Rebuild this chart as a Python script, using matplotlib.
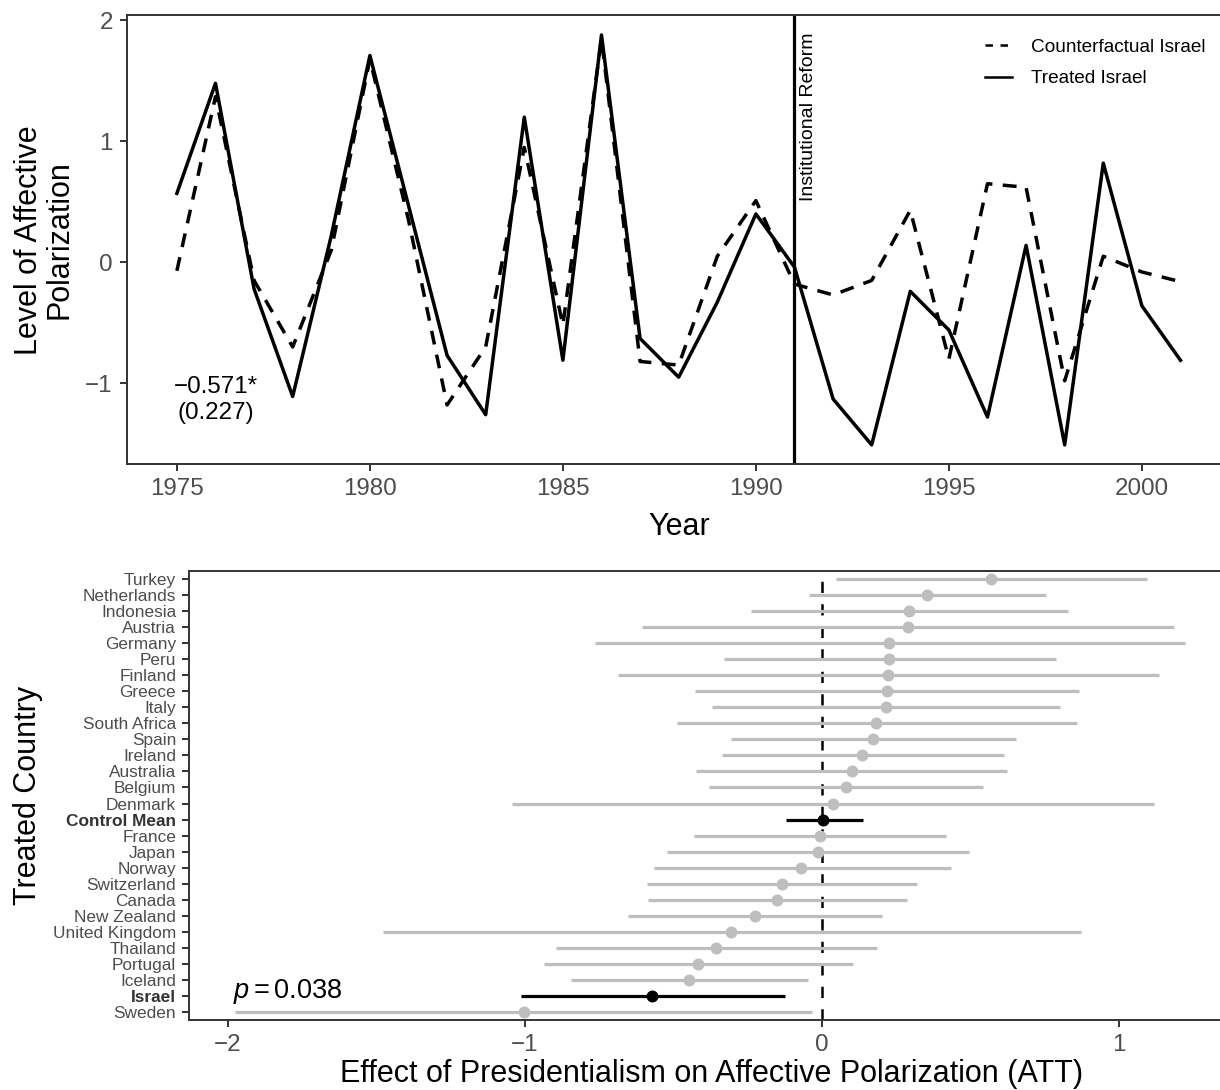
import matplotlib
matplotlib.use("Agg")
import matplotlib.pyplot as plt
from matplotlib.lines import Line2D

plt.rcParams['font.family'] = ['Liberation Sans', 'DejaVu Sans']
plt.rcParams['mathtext.fontset'] = 'custom'
plt.rcParams['mathtext.rm'] = 'Liberation Sans'
plt.rcParams['mathtext.it'] = 'Liberation Sans:italic'

# top panel: Israel vs synthetic counterfactual
years = [1975, 1976, 1977, 1978, 1979, 1980, 1981, 1982, 1983, 1984,
         1985, 1986, 1987, 1988, 1989, 1990, 1991, 1992, 1993, 1994,
         1995, 1996, 1997, 1998, 1999, 2000, 2001]
treated = [0.57, 1.48, -0.22, -1.11, 0.22, 1.71, 0.47, -0.77, -1.26, 1.20,
           -0.81, 1.88, -0.63, -0.95, -0.33, 0.40, -0.04, -1.13, -1.51, -0.24,
           -0.56, -1.28, 0.14, -1.51, 0.82, -0.36, -0.81]
counterfactual = [-0.07, 1.37, -0.15, -0.70, 0.10, 1.68, 0.35, -1.18, -0.70, 0.95,
                  -0.52, 1.85, -0.82, -0.85, 0.05, 0.51, -0.18, -0.27, -0.15, 0.43,
                  -0.80, 0.65, 0.62, -0.98, 0.05, -0.08, -0.16]
reform_year = 1991

# bottom panel: placebo estimates, listed top to bottom
countries = ["Turkey", "Netherlands", "Indonesia", "Austria", "Germany", "Peru",
             "Finland", "Greece", "Italy", "South Africa", "Spain", "Ireland",
             "Australia", "Belgium", "Denmark", "Control Mean", "France", "Japan",
             "Norway", "Switzerland", "Canada", "New Zealand", "United Kingdom",
             "Thailand", "Portugal", "Iceland", "Israel", "Sweden"]
att = [0.570, 0.354, 0.292, 0.289, 0.227, 0.225, 0.222, 0.218, 0.216, 0.183,
       0.171, 0.136, 0.100, 0.080, 0.036, 0.005, -0.007, -0.013, -0.069, -0.136,
       -0.151, -0.225, -0.306, -0.355, -0.417, -0.446, -0.571, -1.004]
ci_low = [0.046, -0.045, -0.239, -0.606, -0.763, -0.331, -0.687, -0.426, -0.370, -0.488,
          -0.307, -0.337, -0.424, -0.379, -1.043, -0.120, -0.430, -0.520, -0.567, -0.590,
          -0.585, -0.653, -1.479, -0.896, -0.935, -0.845, -1.012, -1.977]
ci_high = [1.096, 0.756, 0.827, 1.187, 1.221, 0.787, 1.136, 0.864, 0.803, 0.858,
           0.652, 0.613, 0.624, 0.544, 1.118, 0.138, 0.418, 0.496, 0.433, 0.319,
           0.287, 0.204, 0.872, 0.187, 0.104, -0.046, -0.123, -0.034]
highlight = ["Control Mean", "Israel"]

W, H = 1220, 1090
AXIS_COL = "#333333"
TICK_COL = "#4D4D4D"
GREY = "#BEBEBE"


def px_box(left, top, right, bottom):
    return [left / W, 1 - bottom / H, (right - left) / W, (bottom - top) / H]


def style_axes(ax):
    for side in ["left", "bottom", "top", "right"]:
        ax.spines[side].set_color(AXIS_COL)
        ax.spines[side].set_linewidth(1.4)
    ax.tick_params(direction="out", length=5, width=1.4, color=AXIS_COL,
                   labelcolor=TICK_COL)


fig = plt.figure(figsize=(W / 100, H / 100), dpi=100)

# ---- top panel
# panel runs past the right edge of the picture, as in the original
ax1 = fig.add_axes(px_box(126.7, 15, 1225, 464))
style_axes(ax1)
ax1.plot(years, counterfactual, color="black", lw=2.5, ls=(0, (4, 3)),
         label="Counterfactual Israel")
ax1.plot(years, treated, color="black", lw=2.5, label="Treated Israel")
ax1.axvline(reform_year, color="black", lw=2.3)
ax1.text(reform_year + 0.14, 1.9, "Institutional Reform", rotation=90,
         ha="left", va="top", fontsize=14)
ax1.text(1976.0, -1.14, "\u22120.571*\n(0.227)", ha="center", va="center",
         multialignment="center", fontsize=17.4, linespacing=1.25)
ax1.set_xlim(1973.70, 1973.70 + (1225 - 126.7) / 38.6)
ax1.set_ylim(-1.668, 2.045)
ax1.set_xticks([1975, 1980, 1985, 1990, 1995, 2000])
ax1.set_yticks([-1, 0, 1, 2])
ax1.tick_params(labelsize=17.4)
ax1.tick_params(axis="x", pad=5)
ax1.tick_params(axis="y", pad=5)

handles = [Line2D([], [], color="black", lw=1.8, ls=(0, (3, 3))),
           Line2D([], [], color="black", lw=1.8)]
ax1.legend(handles, ["Counterfactual Israel", "Treated Israel"],
           loc="upper left", bbox_to_anchor=(0.7815, 0.948), frameon=False,
           fontsize=13.7, handlelength=1.4, handletextpad=1.0,
           labelspacing=0.75, borderpad=0, borderaxespad=0)

fig.text(44 / W, 1 - 240 / H, "Level of Affective\nPolarization", rotation=90,
         ha="center", va="center", multialignment="center", fontsize=22,
         linespacing=1.0)
fig.text(679 / W, 1 - 535 / H, "Year", ha="center", va="baseline", fontsize=22)

# ---- bottom panel
ax2 = fig.add_axes(px_box(188.7, 571, 1225, 1020))
style_axes(ax2)
n = len(countries)
ypos = [n - 1 - i for i in range(n)]
ax2.axvline(0, color="black", lw=1.8, ls=(0, (4.5, 4.5)), zorder=1)
for c, y, est, lo, hi in zip(countries, ypos, att, ci_low, ci_high):
    col = "black" if c in highlight else GREY
    ax2.plot([lo, hi], [y, y], color=col, lw=2.3, solid_capstyle="butt", zorder=2)
    ax2.plot(est, y, "o", color=col, ms=8.6, mew=0, zorder=3)
ax2.set_xlim(-2.132, -2.132 + (1225 - 188.7) / 297)
ax2.set_ylim(-0.5, n - 0.5)
ax2.set_xticks([-2, -1, 0, 1])
ax2.set_yticks(ypos)
ax2.set_yticklabels(countries, fontsize=12.4)
for lab in ax2.get_yticklabels():
    if lab.get_text() in highlight:
        lab.set_fontweight("bold")
        lab.set_color("#333333")
ax2.tick_params(axis="x", labelsize=17.4, pad=5)
ax2.tick_params(axis="y", pad=4)
ax2.text(-1.80, 0.85, r"$p = \mathrm{0.038}$", ha="center", va="baseline",
         fontsize=19.5)

fig.text(28 / W, 1 - 795 / H, "Treated Country", rotation=90,
         ha="center", va="center", fontsize=22)
fig.text(712 / W, 1 - 1082 / H,
         "Effect of Presidentialism on Affective Polarization (ATT)",
         ha="center", va="baseline", fontsize=22)

fig.savefig("out.png", dpi=100)
